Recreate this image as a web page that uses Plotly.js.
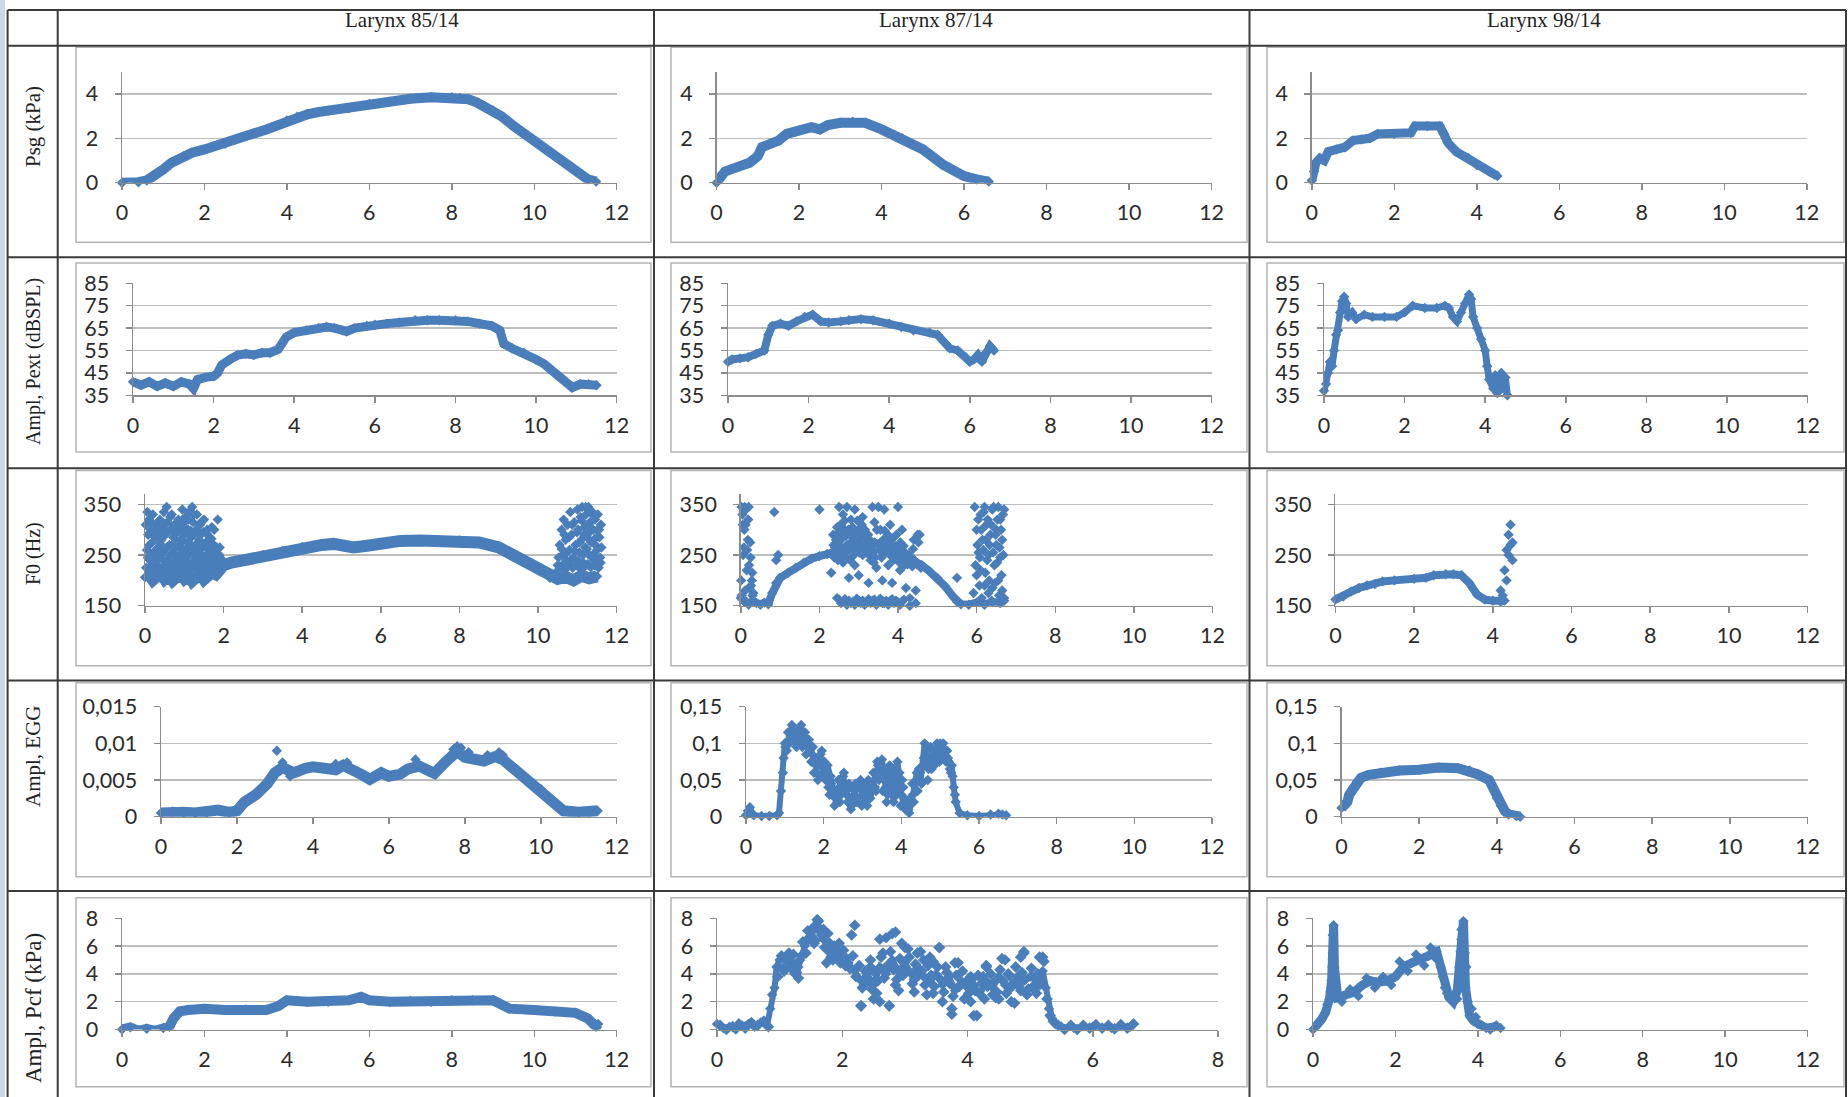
<!DOCTYPE html>
<html><head><meta charset="utf-8">
<script src="https://cdn.plot.ly/plotly-3.0.1.min.js"></script>
<style>html,body{margin:0;padding:0;background:#fff;}#chart{width:1848px;height:1097px;}</style>
</head><body><div id="chart"></div>
<script>
// ---------- text ----------
const columnTitles = ['Larynx 85/14', 'Larynx 87/14', 'Larynx 98/14'];
const rowTitles = ['Psg (kPa)', 'Ampl, Pext (dBSPL)', 'F0 (Hz)', 'Ampl, EGG', 'Ampl, Pcf (kPa)'];

// ---------- Row 1: Psg (kPa) ----------
const psg85_x = [0,0.2,0.4,0.6,0.8,1.0,1.2,1.5,1.7,2.0,2.5,3.0,3.5,4.0,4.25,4.5,4.75,5.0,5.5,6.0,6.5,7.0,7.5,8.0,8.2,8.4,8.6,8.8,9.0,9.2,9.5,10.0,10.5,11.0,11.3,11.5];
const psg85_y = [0,-0.02,0.02,0.1,0.3,0.6,0.9,1.2,1.35,1.5,1.75,2.1,2.4,2.8,2.97,3.08,3.18,3.25,3.35,3.55,3.65,3.78,3.85,3.85,3.82,3.76,3.62,3.45,3.25,3.0,2.55,1.9,1.2,0.5,0.15,0.05];
const psg87_x = [0,0.1,0.2,0.5,0.8,1.0,1.1,1.3,1.5,1.7,2.0,2.3,2.5,2.7,3.0,3.3,3.6,4.0,4.5,5.0,5.5,6.0,6.3,6.6];
const psg87_y = [0,0.3,0.5,0.7,0.9,1.2,1.6,1.75,1.9,2.2,2.35,2.5,2.4,2.6,2.7,2.75,2.7,2.4,2.0,1.5,0.8,0.3,0.15,0.05];
const psg98_x = [0,0.05,0.1,0.2,0.3,0.4,0.6,0.8,1.0,1.2,1.4,1.6,2.0,2.4,2.5,2.8,3.1,3.2,3.3,3.5,3.8,4.0,4.3,4.5];
const psg98_y = [0.1,0.5,0.9,1.1,1.0,1.4,1.5,1.6,1.9,1.95,2.0,2.2,2.2,2.25,2.55,2.55,2.55,2.2,1.8,1.4,1.1,0.8,0.5,0.3];

// ---------- Row 2: Ampl, Pext (dBSPL) ----------
const pext85_x = [0,0.2,0.4,0.6,0.8,1.0,1.2,1.4,1.5,1.6,1.8,2.0,2.1,2.2,2.4,2.6,2.8,3.0,3.2,3.4,3.6,3.7,3.8,4.0,4.3,4.6,4.8,5.0,5.2,5.3,5.5,5.8,6.0,6.3,6.6,7.0,7.3,7.6,8.0,8.3,8.6,8.9,9.1,9.2,9.4,9.7,10.0,10.2,10.4,10.6,10.8,10.9,11.1,11.3,11.5];
const pext85_y = [41,39.5,41,39,40.5,39,41,40,38,42,43,43.5,45,48.5,51,53,53.5,53,54,54,55.5,58,61,63,64,65,65.5,65,64,63.5,65,66,66.5,67,67.5,68.5,68.5,68.5,68.5,68,67,66,64,58,56,54,51,49,46,43,40,38.5,40,40,39.5];
const pext87_x = [0,0.1,0.3,0.5,0.7,0.9,1.0,1.1,1.3,1.5,1.7,1.9,2.1,2.3,2.5,2.8,3.0,3.3,3.6,4.0,4.3,4.6,5.0,5.2,5.4,5.5,5.7,5.9,6.0,6.1,6.2,6.3,6.4,6.5,6.6];
const pext87_y = [50,51,51.5,52,53.5,55,62,66,67,66,68,70,71,68,67.5,68,68.5,69,68.5,67,65.5,64,63,62,58,56,55,52,50,51,53,50,54,57,55];
const pext98_x = [0,0.05,0.1,0.15,0.2,0.25,0.3,0.35,0.4,0.45,0.5,0.55,0.6,0.7,0.8,1.0,1.2,1.5,1.8,2.0,2.2,2.5,2.8,3.0,3.1,3.2,3.3,3.4,3.5,3.6,3.65,3.7,3.8,3.9,4.0,4.05,4.1,4.2,4.25,4.3,4.35,4.4,4.45,4.5,4.55];
const pext98_y = [37,40,45,50,48,55,62,64,72,77,79,76,70,72,69,71,70,70,70,72,75,74,74,75,74,70,68,72,76,80,78,70,65,60,55,48,42,38,44,36,42,45,38,43,35];

// ---------- Row 3: F0 (Hz) ----------
const f085_x = [0,0.1,0.2,0.3,0.4,0.5,0.6,0.7,0.8,0.9,1.0,1.1,1.2,1.3,1.4,1.5,1.6,1.7,1.8,1.9,2.0,2.2,2.5,3.0,3.5,4.0,4.5,4.8,5.0,5.3,5.6,6.0,6.5,7.0,7.5,8.0,8.5,9.0,9.3,9.6,10.0,10.3,10.5,10.7,10.9,11.1,11.3,11.5];
const f085_y = [206,212,201,209,215,203,210,200,208,214,204,211,199,207,213,202,209,216,212,222,230,235,240,250,258,266,270,272,268,265,268,274,278,279,279,279,275,265,252,238,220,205,203,207,200,209,204,208];
const f085Scatter_x = [0.02,0.05,0.08,0.1,0.12,0.15,0.18,0.2,0.22,0.25,0.28,0.3,0.33,0.35,0.38,0.4,0.42,0.45,0.48,0.5,0.52,0.55,0.58,0.6,0.62,0.65,0.68,0.7,0.72,0.75,0.78,0.8,0.82,0.85,0.88,0.9,0.92,0.95,0.98,1.0,1.02,1.05,1.08,1.1,1.12,1.15,1.18,1.2,1.22,1.25,1.28,1.3,1.32,1.35,1.38,1.4,1.42,1.45,1.48,1.5,1.52,1.55,1.58,1.6,1.62,1.65,1.68,1.7,1.72,1.75,1.78,1.8,1.85,1.88,1.9,1.95,
  0.03,0.06,0.07,0.11,0.13,0.16,0.17,0.21,0.24,0.26,0.29,0.31,0.34,0.36,0.39,0.41,0.44,0.46,0.49,0.51,0.53,0.56,0.57,0.59,0.63,0.64,0.66,0.69,0.71,0.73,0.76,0.77,0.79,0.81,0.83,0.86,0.87,0.89,0.91,0.94,0.96,0.97,0.99,1.01,1.04,1.06,1.07,1.09,1.11,1.13,1.16,1.17,1.19,1.21,1.24,1.26,1.27,1.29,1.31,1.34,1.36,1.37,1.39,1.41,1.44,1.46,1.47,1.49,1.51,1.54,1.56,1.57,1.59,1.61,1.64,1.66,1.69,1.71,1.74,1.76,1.79,1.81,1.83,1.86,1.89,1.91,1.93,1.96,1.98,
  10.5,10.55,10.6,10.62,10.65,10.7,10.72,10.75,10.8,10.82,10.85,10.9,10.92,10.95,11.0,11.02,11.05,11.08,11.1,11.12,11.15,11.18,11.2,11.22,11.25,11.28,11.3,11.32,11.35,11.38,11.4,11.42,11.45,11.48,11.5,11.52,11.55,11.58,11.6,
  10.45,10.52,10.57,10.6,10.64,10.67,10.69,10.74,10.77,10.79,10.83,10.87,10.88,10.93,10.97,10.99,11.03,11.06,11.09,11.11,11.14,11.17,11.19,11.21,11.24,11.26,11.29,11.31,11.34,11.36,11.39,11.41,11.44,11.46,11.49,11.51,11.54,11.56,11.59,11.61];
const f085Scatter_y = [310,260,290,320,240,300,275,330,250,285,310,230,265,295,320,245,280,305,335,260,290,345,315,240,270,300,330,255,285,310,235,265,295,320,250,280,305,340,260,290,325,245,275,300,335,255,285,345,315,240,270,300,330,250,280,310,235,265,295,320,245,275,300,230,260,285,250,305,240,270,225,255,320,240,265,230,
  225,335,245,270,295,230,315,255,222,300,240,285,228,250,272,300,225,255,238,312,228,265,295,222,248,325,232,270,298,226,248,282,300,228,242,268,298,224,252,232,278,312,238,226,262,300,228,250,320,232,298,270,226,258,330,228,292,245,222,268,310,232,255,290,226,248,318,235,270,228,250,292,240,222,268,232,282,226,245,300,238,228,265,232,250,245,228,240,235,
  230,270,300,250,320,280,240,310,260,335,290,245,315,270,340,300,255,325,280,345,235,305,265,330,290,345,250,315,275,335,300,240,320,285,260,330,300,245,310,
  215,245,225,262,232,290,222,255,228,285,240,310,225,258,230,295,238,275,222,318,250,290,228,345,262,232,310,280,226,300,250,328,230,270,240,300,225,285,235,265];
const f087_x = [0,0.1,0.2,0.3,0.4,0.5,0.6,0.7,0.8,0.9,1.0,1.2,1.4,1.6,1.8,2.0,2.2,2.4,2.6,2.8,3.0,3.2,3.4,3.6,3.8,4.0,4.2,4.4,4.6,4.8,5.0,5.2,5.4,5.5,5.6,5.8,6.0,6.2,6.4,6.6,6.7];
const f087_y = [165,158,152,160,155,152,156,153,175,195,205,215,225,235,243,248,252,258,263,268,270,272,275,270,262,255,248,240,230,218,205,188,168,158,153,152,156,152,158,155,160];
const f087Scatter_x = [0.02,0.05,0.08,0.1,0.12,0.15,0.18,0.2,0.22,0.25,0.28,0.3,0.85,0.9,0.95,
  0.01,0.04,0.06,0.09,0.11,0.13,0.16,0.19,0.21,0.24,0.26,0.29,0.32,0.02,0.07,0.14,
  2.3,2.35,2.4,2.45,2.5,2.5,2.55,2.6,2.6,2.65,2.7,2.7,2.75,2.8,2.8,2.85,2.9,2.9,2.95,3.0,3.0,3.05,3.1,3.1,3.15,3.2,3.25,3.3,3.35,3.4,3.45,3.5,3.55,3.6,3.6,3.65,3.7,3.75,3.8,3.85,3.9,3.95,4.0,4.05,4.1,4.15,4.2,4.3,4.4,4.5,4.45,4.3,
  2.32,2.36,2.38,2.42,2.44,2.47,2.48,2.52,2.54,2.56,2.58,2.62,2.64,2.66,2.68,2.72,2.74,2.76,2.78,2.82,2.84,2.86,2.88,2.92,2.94,2.96,2.98,3.02,3.04,3.06,3.08,3.12,3.14,3.16,3.18,3.22,3.24,3.26,3.28,3.32,3.36,3.38,3.42,3.46,3.52,3.58,3.62,3.64,3.66,3.68,3.72,3.74,3.76,3.78,3.82,3.84,3.86,3.88,3.92,3.94,3.96,3.98,4.02,4.04,4.06,4.08,4.12,4.14,4.16,4.18,4.22,4.24,4.28,4.32,4.36,4.38,4.42,4.48,4.52,4.55,4.58,2.0,
  2.45,2.6,2.8,3.0,3.2,3.4,3.6,3.8,4.0,4.15,4.3,4.45,
  2.5,2.55,2.65,2.7,2.75,2.85,2.9,2.95,3.05,3.1,3.15,3.25,3.3,3.35,3.45,3.5,3.55,3.65,3.7,3.75,3.85,3.9,3.95,4.05,4.1,
  5.95,6.0,6.05,6.1,6.1,6.15,6.2,6.2,6.25,6.3,6.3,6.35,6.4,6.45,6.5,6.5,6.55,6.55,6.6,6.6,6.65,6.65,6.7,6.7,6.0,6.4,5.5,
  5.92,5.97,6.02,6.04,6.07,6.08,6.12,6.13,6.17,6.18,6.22,6.23,6.27,6.28,6.32,6.33,6.37,6.38,6.42,6.43,6.47,6.48,6.52,6.53,6.57,6.58,6.62,6.63,6.67,6.68];
const f087Scatter_y = [345,310,265,345,310,220,280,345,185,245,200,170,335,240,250,
  200,330,250,300,180,340,260,320,230,275,190,215,175,170,160,158,
  215,290,265,305,345,250,280,330,235,300,270,345,205,290,320,260,340,230,275,300,210,285,250,325,270,290,195,240,345,315,225,345,300,200,260,340,280,230,310,195,285,265,345,220,300,255,185,240,280,290,180,165,
  255,270,245,280,258,240,295,268,310,252,285,262,318,245,288,258,300,272,240,265,305,282,250,295,262,318,278,255,292,268,310,285,258,300,275,262,290,250,280,265,255,235,245,300,260,245,280,262,298,255,275,290,258,270,248,282,262,240,268,252,290,245,262,235,275,250,242,268,230,255,245,232,250,238,228,262,240,232,275,290,225,340,
  165,158,155,160,156,162,155,160,157,162,150,155,
  162,155,163,152,160,158,152,164,155,160,152,163,155,160,152,158,164,155,160,152,163,155,160,152,158,
  345,300,255,330,220,280,345,190,310,250,175,290,340,230,300,270,345,200,320,245,280,180,340,165,210,185,205,
  175,230,270,320,190,245,300,165,260,335,215,280,240,320,200,270,310,160,255,345,195,290,235,320,170,265,300,210,330,250];
const f098_x = [0,0.2,0.4,0.6,0.8,1.0,1.2,1.5,2.0,2.3,2.5,2.8,3.0,3.2,3.4,3.6,3.8,4.0,4.2,4.3];
const f098_y = [162,168,178,185,190,193,198,200,203,205,210,212,212,210,195,172,162,160,158,160];
const f098Scatter_x = [4.2,4.25,4.3,4.35,4.35,4.4,4.4,4.45,4.45,4.5,4.5];
const f098Scatter_y = [180,170,220,260,200,290,250,310,270,275,240];

// ---------- Row 4: Ampl, EGG ----------
const egg85_x = [0,0.3,0.6,0.9,1.2,1.5,1.8,2.0,2.2,2.5,2.8,3.0,3.2,3.5,3.8,4.0,4.3,4.6,4.8,5.0,5.3,5.5,5.8,6.0,6.3,6.5,6.8,7.0,7.2,7.5,7.8,8.0,8.3,8.5,8.8,9.0,9.3,9.6,10.0,10.3,10.6,11.0,11.3,11.5];
const egg85_y = [0.0005,0.0007,0.0006,0.0005,0.0006,0.0009,0.0006,0.0008,0.002,0.003,0.0045,0.006,0.0067,0.006,0.0066,0.0068,0.0066,0.0064,0.007,0.0066,0.0057,0.0051,0.006,0.0055,0.0058,0.0065,0.0069,0.0064,0.0059,0.0075,0.0089,0.0081,0.0079,0.0076,0.0082,0.0078,0.0065,0.0052,0.0038,0.0022,0.0008,0.0006,0.0007,0.0008];
const egg85Scatter_x = [3.05,7.8,7.7,6.7,8.9,3.2,3.4,4.6,4.9,7.9,8.1,8.6,9.0];
const egg85Scatter_y = [0.009,0.0096,0.0092,0.0078,0.0088,0.0074,0.0055,0.0072,0.0074,0.0094,0.0088,0.0084,0.0084];
const egg87_x = [0,0.05,0.1,0.15,0.2,0.4,0.6,0.8,0.85,0.9,0.95,1.0,1.1,1.2,1.3,1.4,1.5,1.6,1.7,1.8,1.9,2.0,2.1,2.2,2.3,2.4,2.5,2.6,2.7,2.8,2.9,3.0,3.1,3.2,3.3,3.4,3.5,3.6,3.7,3.8,3.9,4.0,4.1,4.2,4.3,4.4,4.5,4.6,4.7,4.8,4.9,5.0,5.1,5.2,5.3,5.35,5.4,5.5,5.7,6.0,6.3,6.5,6.6,6.7];
const egg87_y = [0.002,0.008,0.013,0.005,0.002,0.001,0.001,0.002,0.005,0.035,0.06,0.1,0.105,0.12,0.095,0.12,0.11,0.1,0.085,0.07,0.08,0.06,0.07,0.045,0.025,0.04,0.055,0.03,0.01,0.035,0.045,0.03,0.04,0.025,0.05,0.07,0.078,0.04,0.07,0.02,0.075,0.03,0.01,0.005,0.03,0.06,0.05,0.1,0.065,0.08,0.09,0.1,0.09,0.08,0.07,0.04,0.02,0.005,0.002,0.001,0.003,0.004,0.003,0.002];
const egg87Scatter_x = [1.05,1.15,1.25,1.35,1.45,1.55,1.65,1.75,1.85,1.95,2.05,2.15,2.35,2.45,2.55,2.65,2.75,2.85,2.95,3.05,3.15,3.25,3.35,3.45,3.55,3.65,3.75,3.85,3.95,4.05,4.15,4.35,4.45,4.55,4.65,4.75,4.85,4.95,5.05,5.15,5.25,
  0.97,1.02,1.08,1.12,1.18,1.22,1.28,1.32,1.38,1.42,1.48,1.52,1.58,1.62,1.68,1.72,1.78,1.82,1.88,1.92,1.98,2.02,2.08,2.12,2.18,2.22,2.28,2.32,2.38,2.42,2.48,2.52,2.58,2.62,2.68,2.72,2.78,2.82,2.88,2.92,2.98,3.02,3.08,3.12,3.18,3.22,3.28,3.32,3.38,3.42,3.48,3.52,3.58,3.62,3.68,3.72,3.78,3.82,3.88,3.92,3.98,4.02,4.08,4.18,4.22,4.28,4.32,4.38,4.42,4.48,4.52,4.58,4.62,4.68,4.72,4.78,4.82,4.88,4.92,4.98,5.02,5.08,5.12,5.18,5.22,5.28,5.32,5.38];
const egg87Scatter_y = [0.09,0.11,0.105,0.12,0.095,0.085,0.09,0.06,0.05,0.09,0.05,0.03,0.02,0.03,0.04,0.045,0.025,0.02,0.05,0.02,0.05,0.04,0.035,0.06,0.05,0.03,0.05,0.05,0.06,0.04,0.02,0.045,0.065,0.07,0.085,0.095,0.07,0.085,0.095,0.075,0.065,
  0.08,0.095,0.115,0.1,0.125,0.11,0.1,0.115,0.105,0.125,0.1,0.115,0.095,0.105,0.075,0.095,0.08,0.06,0.07,0.085,0.055,0.075,0.06,0.04,0.055,0.035,0.015,0.035,0.05,0.02,0.045,0.06,0.035,0.02,0.04,0.015,0.03,0.045,0.025,0.04,0.015,0.045,0.03,0.015,0.04,0.035,0.06,0.04,0.075,0.05,0.065,0.035,0.06,0.02,0.05,0.035,0.065,0.04,0.03,0.06,0.015,0.05,0.025,0.015,0.025,0.045,0.02,0.05,0.035,0.06,0.045,0.08,0.07,0.05,0.075,0.065,0.09,0.08,0.1,0.075,0.085,0.1,0.08,0.09,0.075,0.06,0.055,0.03];
const egg98_x = [0,0.1,0.15,0.2,0.3,0.4,0.5,0.7,1.0,1.5,2.0,2.5,3.0,3.3,3.5,3.8,3.9,4.0,4.1,4.2,4.3,4.5,4.6];
const egg98_y = [0.012,0.015,0.02,0.03,0.04,0.048,0.053,0.057,0.06,0.063,0.064,0.067,0.066,0.063,0.058,0.05,0.04,0.025,0.015,0.008,0.003,0.001,0.0];

// ---------- Row 5: Ampl, Pcf (kPa) ----------
const pcf85_x = [0,0.2,0.4,0.6,0.8,1.0,1.15,1.25,1.4,1.6,2.0,2.5,3.0,3.5,3.8,4.0,4.5,5.0,5.5,5.8,6.0,6.5,7.0,7.5,8.0,8.5,9.0,9.2,9.4,10.0,10.5,11.0,11.3,11.5,11.55];
const pcf85_y = [0,0.15,-0.1,0.05,-0.1,0.1,0.2,0.8,1.3,1.4,1.5,1.4,1.45,1.4,1.7,2.1,2.0,2.0,2.1,2.35,2.1,2.0,2.05,2.0,2.1,2.1,2.1,1.8,1.5,1.4,1.3,1.2,0.8,0.2,0.4];
const pcf87_x = [0,0.1,0.2,0.3,0.4,0.5,0.6,0.7,0.8,0.85,0.88,0.92,0.95,1.0,1.1,1.2,1.3,1.4,1.5,1.6,1.65,1.7,1.8,1.9,2.0,2.1,2.2,2.3,2.4,2.5,2.6,2.7,2.8,2.9,3.0,3.1,3.2,3.3,3.4,3.5,3.6,3.7,3.8,3.9,4.0,4.1,4.2,4.3,4.4,4.5,4.6,4.7,4.8,4.9,5.0,5.1,5.2,5.25,5.3,5.35,5.4,5.5,5.7,6.0,6.3,6.6];
const pcf87_y = [0.4,0.1,0.2,0.0,0.3,0.4,0.2,0.5,0.3,1.5,2.5,3.0,4.5,5.0,5.2,4.8,4.5,6.0,6.8,7.5,7.0,6.5,5.5,5.8,5.0,4.8,4.2,3.5,4.0,3.2,4.5,4.0,5.0,4.2,4.8,4.0,4.5,3.8,3.5,4.0,3.2,3.8,2.8,3.5,3.0,3.2,2.5,3.5,3.0,3.8,3.2,3.0,3.8,3.5,3.8,3.5,4.2,3.0,1.5,0.8,0.4,0.2,0.1,0.2,0.1,0.2];
const pcf87Scatter_x = [2.2,2.15,2.6,2.8,2.75,2.3,2.5,3.0,3.2,3.55,3.75,3.85,4.15,4.3,4.55,4.9,5.15,4.7,3.6,3.4,2.9,2.45,1.95,1.75,1.85,2.05,2.35,2.55,2.65,2.85,3.15,3.3,3.45,3.65,3.95,4.05,4.25,4.45,4.65,4.85,5.05,5.15,1.05,1.15,1.25,1.35,1.45,1.55,1.7,1.8,1.3,
  0.97,1.03,1.07,1.12,1.18,1.22,1.27,1.32,1.37,1.42,1.47,1.52,1.57,1.62,1.67,1.72,1.77,1.82,1.87,1.92,1.97,2.02,2.07,2.12,2.17,2.22,2.27,2.32,2.37,2.42,2.47,2.52,2.57,2.62,2.67,2.72,2.77,2.82,2.87,2.92,2.97,3.02,3.07,3.12,3.17,3.22,3.27,3.32,3.37,3.42,3.47,3.52,3.57,3.62,3.67,3.72,3.77,3.82,3.87,3.92,3.97,4.02,4.07,4.12,4.17,4.22,4.27,4.32,4.37,4.42,4.47,4.52,4.57,4.62,4.67,4.72,4.77,4.82,4.87,4.92,4.97,5.02,5.07,5.12,5.17,5.22,5.2,5.27,5.32,5.37,
  1.6,1.55,2.45,2.7,2.85,2.95,3.05,3.25,3.55,3.35,3.8,3.75,4.1,4.6,4.85,4.9,2.6,2.3,2.75,4.5,4.75,4.05,3.15,3.45,4.3,4.95,5.1,4.4,
  0.05,0.15,0.25,0.35,0.45,0.55,0.65,0.75,0.82,5.45,5.55,5.65,5.75,5.85,5.95,6.05,6.15,6.25,6.35,6.45,6.55,6.65];
const pcf87Scatter_y = [7.5,6.8,6.5,6.9,1.7,1.7,2.2,5.9,5.5,5.9,1.1,4.8,1.0,4.5,5.1,5.5,5.2,2.0,2.0,5.2,2.8,4.5,6.2,4.8,5.0,4.6,3.2,2.6,5.5,3.2,3.6,5.0,2.6,4.5,2.2,3.8,3.8,2.3,4.0,2.8,3.0,3.2,4.4,5.5,4.0,5.3,7.1,6.2,7.2,6.2,3.7,
  3.8,5.3,4.2,4.9,4.4,5.4,4.1,5.0,6.3,5.5,6.6,7.2,6.4,7.8,6.8,5.9,6.9,5.2,6.0,5.4,4.8,5.7,5.1,4.4,5.3,3.8,4.6,3.0,4.2,3.6,2.9,4.1,3.5,5.2,3.7,4.6,5.6,4.3,3.6,5.1,3.9,4.4,5.2,3.3,4.7,3.9,4.2,3.2,4.6,3.9,3.1,4.5,3.6,2.7,4.1,3.3,2.4,3.9,3.1,4.2,3.4,2.6,3.6,2.8,3.9,3.3,2.2,3.1,4.0,3.4,2.7,4.3,3.5,2.6,3.9,3.3,4.5,3.1,4.1,3.6,2.9,4.4,3.2,4.0,3.4,4.9,5.2,2.2,1.0,0.6,
  7.9,7.4,5.0,6.6,7.0,6.2,5.8,5.6,5.9,2.5,4.8,1.5,1.0,5.0,5.2,5.6,2.0,1.7,1.7,2.2,1.9,2.0,2.7,4.9,4.6,2.5,2.6,2.5,
  0.3,0.0,0.2,0.4,0.1,0.5,0.3,0.6,0.2,0.3,0.0,0.3,0.0,0.3,0.1,0.35,0.1,0.3,0.05,0.35,0.1,0.4];
const pcf98_x = [0,0.1,0.2,0.3,0.35,0.4,0.45,0.48,0.5,0.52,0.55,0.6,0.8,1.0,1.2,1.4,1.6,1.8,2.0,2.2,2.4,2.6,2.8,2.9,3.0,3.1,3.2,3.3,3.4,3.5,3.55,3.6,3.65,3.7,3.75,3.8,3.9,4.0,4.2,4.4,4.55];
const pcf98_y = [0,0.3,0.7,1.2,1.8,2.2,3.5,5.5,7.5,4.5,2.5,2.3,2.5,2.7,3.2,3.5,3.4,3.5,3.8,4.5,4.8,5.0,5.3,5.5,5.6,4.5,3.0,2.3,2.0,2.8,4.5,6.5,7.8,3.0,2.0,1.0,0.6,0.4,0.1,0.2,0.1];
const pcf98Scatter_x = [0.7,0.9,1.1,1.3,1.5,1.7,1.9,2.1,2.3,2.5,2.7,2.85,2.95,3.15,3.25,3.45,3.5,3.62,3.68,3.72,3.85,3.95,4.1,4.3,4.45,0.48,0.5,0.47,0.52,0.42,3.6,3.58,3.66];
const pcf98Scatter_y = [2.0,2.9,2.4,3.7,3.0,3.8,3.2,4.9,4.2,5.4,4.6,5.9,5.2,3.8,2.6,2.5,2.2,4.0,5.5,4.5,1.5,0.9,0.3,0.0,0.3,6.8,6.0,4.5,3.3,2.7,7.2,5.6,6.0];

// ---------- panel assembly (row-major) ----------
const panels = [
  {bx: psg85_x, by: psg85_y}, {bx: psg87_x, by: psg87_y}, {bx: psg98_x, by: psg98_y},
  {bx: pext85_x, by: pext85_y}, {bx: pext87_x, by: pext87_y}, {bx: pext98_x, by: pext98_y},
  {bx: f085_x, by: f085_y, sx: f085Scatter_x, sy: f085Scatter_y},
  {bx: f087_x, by: f087_y, sx: f087Scatter_x, sy: f087Scatter_y},
  {bx: f098_x, by: f098_y, sx: f098Scatter_x, sy: f098Scatter_y},
  {bx: egg85_x, by: egg85_y, sx: egg85Scatter_x, sy: egg85Scatter_y},
  {bx: egg87_x, by: egg87_y, sx: egg87Scatter_x, sy: egg87Scatter_y},
  {bx: egg98_x, by: egg98_y},
  {bx: pcf85_x, by: pcf85_y},
  {bx: pcf87_x, by: pcf87_y, sx: pcf87Scatter_x, sy: pcf87Scatter_y},
  {bx: pcf98_x, by: pcf98_y, sx: pcf98Scatter_x, sy: pcf98Scatter_y}
];

// ---------- geometry & style (pixels) ----------
const W = 1848, H = 1097;
const BLUE = '#4A7EBB';
const plotL = [[122,716.6,1311.8],[133,728,1324],[145,740.8,1335.4],[161,746,1341.5],[122,717,1313]];
const plotR = [[616.7,1211.6,1806.8],[616.7,1211.6,1807.6],[616.7,1212.5,1807.6],[616.7,1212,1807.6],[616.7,1218,1807.6]];
const plotT = [71.7,283.3,494.3,706.7,918.3];
const plotB = [182.7,395.3,605.7,816.7,1029.5];
const yRanges = [[[0,5]],[[35,85]],[[150,370]],[[0,0.015],[0,0.15],[0,0.15]],[[0,8]]];
const yDticks = [[2],[10],[100],[0.005,0.05,0.05],[2]];
const bandWidth = [[10,10,9],[9,8,7],[12,8,8],[11,6,10],[10,6,9]];
const scatterSize = [[8,8,8],[8,8,8],[8,8,8],[8,8,8],[8,9,8]];
const TICKFONT = {family: 'Lato, sans-serif', size: 21.5, color: '#2b2b2b'};

const px = v => v / W;
const py = v => 1 - v / H;

const layout = {
  width: W, height: H,
  margin: {l:0, r:0, t:0, b:0},
  paper_bgcolor: '#fff', plot_bgcolor: 'rgba(0,0,0,0)',
  showlegend: false,
  separators: ',.',
  font: {family: 'Lato, "Open Sans", sans-serif', size: 20, color: '#333'},
  shapes: [], annotations: []
};
const data = [];

for (let i = 0; i < 15; i++) {
  const r = Math.floor(i / 3), c = i % 3, n = i + 1;
  const sfx = n === 1 ? '' : String(n);
  const xr = (r === 4 && c === 1) ? [0, 8] : [0, 12];
  const yr = yRanges[r][yRanges[r].length > 1 ? c : 0];
  const yd = yDticks[r][yDticks[r].length > 1 ? c : 0];
  layout['xaxis' + sfx] = {
    domain: [px(plotL[r][c]), px(plotR[r][c])], range: xr, anchor: 'y' + sfx,
    dtick: 2, tick0: 0, showgrid: false, zeroline: false,
    showline: true, linecolor: '#8c8c8c', linewidth: 1.5,
    ticks: 'outside', ticklen: 6, tickcolor: '#8c8c8c', tickwidth: 1.5,
    ticklabelstandoff: 4, tickfont: TICKFONT, fixedrange: true
  };
  layout['yaxis' + sfx] = {
    domain: [py(plotB[r]), py(plotT[r])], range: yr, anchor: 'x' + sfx,
    dtick: yd, tick0: yr[0], showgrid: true, gridcolor: '#bdbdbd', gridwidth: 1.5, zeroline: false,
    showline: true, linecolor: '#8c8c8c', linewidth: 1.5,
    ticks: 'outside', ticklen: 6, tickcolor: '#8c8c8c', tickwidth: 1.5,
    ticklabelstandoff: 12, tickfont: TICKFONT, fixedrange: true
  };
  const p = panels[i];
  data.push({
    type: 'scatter', mode: 'lines+markers', x: p.bx, y: p.by, xaxis: 'x' + sfx, yaxis: 'y' + sfx,
    line: {color: BLUE, width: bandWidth[r][c]},
    marker: {color: BLUE, symbol: 'diamond', size: 8}, cliponaxis: false, hoverinfo: 'skip'
  });
  if (p.sx) {
    data.push({
      type: 'scatter', mode: 'markers', x: p.sx, y: p.sy, xaxis: 'x' + sfx, yaxis: 'y' + sfx,
      marker: {color: BLUE, symbol: 'diamond', size: scatterSize[r][c]}, cliponaxis: false, hoverinfo: 'skip'
    });
  }
}

// ---------- table lines and chart frames ----------
const LINE = '#3a3a3a';
const vLines = [7.6, 57.7, 654, 1249.5, 1846];
const hLines = [10, 45.7, 257.3, 468.3, 680.5, 891];
layout.shapes.push({type:'rect', xref:'paper', yref:'paper', x0:0, x1:px(5), y0:0, y1:1, line:{width:0}, fillcolor:'#c8d8e5', layer:'below'});
vLines.forEach(v => layout.shapes.push({type:'line', xref:'paper', yref:'paper', x0:px(v), x1:px(v), y0:0, y1:py(10), line:{color:LINE, width:2}}));
hLines.forEach(h => layout.shapes.push({type:'line', xref:'paper', yref:'paper', x0:px(7.6), x1:px(1846), y0:py(h), y1:py(h), line:{color:LINE, width:2}}));
const frameX = [[76, 651], [671, 1247], [1267, 1844]];
const frameY = [[47.3, 242.3], [263, 452], [470.5, 665.7], [682.7, 876.7], [897.7, 1086.7]];
frameY.forEach(fy => frameX.forEach(fx => layout.shapes.push({
  type:'rect', xref:'paper', yref:'paper', x0:px(fx[0]), x1:px(fx[1]), y0:py(fy[1]), y1:py(fy[0]),
  line:{color:'#b4b4b4', width:1.5}, fillcolor:'rgba(0,0,0,0)', layer:'below'
})));

// ---------- header and row labels ----------
const headerX = [402, 936, 1544];
columnTitles.forEach((t, k) => layout.annotations.push({
  text: t, xref:'paper', yref:'paper', x: px(headerX[k]), y: py(20), xanchor:'center', yanchor:'middle',
  showarrow:false, font:{family:'"Liberation Serif", "Times New Roman", serif', size:21, color:'#222'}
}));
const rowLabelY = [127, 362, 554, 756, 1008];
const rowLabelSize = [21, 20, 20, 21, 23];
rowTitles.forEach((t, k) => layout.annotations.push({
  text: t, xref:'paper', yref:'paper', x: px(33), y: py(rowLabelY[k]), xanchor:'center', yanchor:'middle',
  textangle: -90, showarrow:false, font:{family:'"Liberation Serif", "Times New Roman", serif', size:rowLabelSize[k], color:'#222'}
}));

Plotly.newPlot('chart', data, layout, {staticPlot: true, displayModeBar: false});
</script>
</body></html>
